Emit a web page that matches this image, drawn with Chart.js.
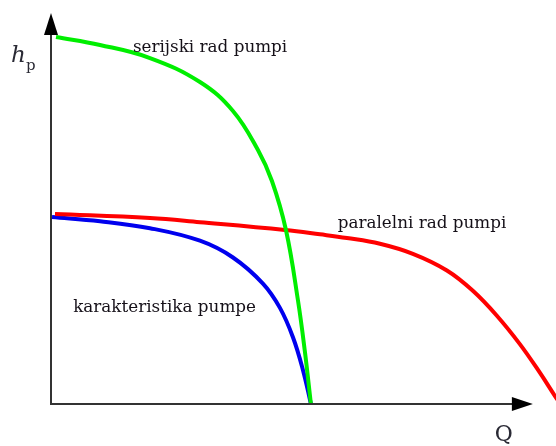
<!DOCTYPE html>
<html>
<head>
<meta charset="utf-8">
<script src="https://cdn.jsdelivr.net/npm/chart.js@4"></script>
<style>
  html, body { margin: 0; padding: 0; background: #fff; overflow: hidden; }
  #wrap { width: 556px; height: 446px; }
</style>
</head>
<body>
<div id="wrap"><canvas id="pumpChart"></canvas></div>
<script>
// Q / h values (axis units, arrow tips at 100)
const serialQ = [1.04, 10.17, 20.54, 30.91, 37.76, 42.95, 45.85, 48.76, 51.24, 52.70, 53.94];
const serialH = [93.86, 91.82, 88.49, 82.35, 74.94, 64.96, 57.03, 44.50, 26.60, 13.30, 0];

const pumpQ = [0.21, 10.17, 20.54, 30.91, 37.76, 43.98, 47.51, 50.21, 52.28, 53.94];
const pumpH = [47.83, 46.75, 44.96, 41.76, 37.47, 30.79, 24.58, 17.08, 8.72, 0];

const parallelQ = [0.83, 20.54, 30.91, 48.55, 55.81, 61.41, 68.26, 75.10, 82.16, 87.55, 92.53, 97.30, 101.45, 104.77, 105.81];
const parallelH = [48.59, 47.57, 46.50, 44.50, 43.40, 42.46, 40.97, 38.39, 34.14, 28.95, 22.58, 15.32, 8.01, 1.71, 0];

// curve labels: text, anchor Q, anchor h (baseline-left)
const curveLabels = [
    { text: 'serijski rad pumpi', q: 17.0, h: 90.0 },
    { text: 'paralelni rad pumpi', q: 59.5, h: 45.0 },
    { text: 'karakteristika pumpe', q: 4.6, h: 23.5 }
];

const Q_ARROW = 100, H_ARROW = 100;

const toPoints = (xs, ys) => xs.map((x, i) => ({ x: x, y: ys[i] }));

const lineStyle = (label, color, data) => ({
    label: label,
    data: data,
    borderColor: color,
    borderWidth: 4,
    pointRadius: 0,
    showLine: true,
    fill: false,
    clip: false,
    tension: 0.4
});

// axes with arrows + curve labels
const decorPlugin = {
    id: 'decor',
    afterDatasetsDraw(chart) {
        const { ctx, scales } = chart;
        const x0 = scales.x.getPixelForValue(0), y0 = scales.y.getPixelForValue(0);
        const xEnd = scales.x.getPixelForValue(Q_ARROW), yEnd = scales.y.getPixelForValue(H_ARROW);
        ctx.save();
        ctx.strokeStyle = '#333';
        ctx.lineWidth = 2;
        ctx.beginPath();
        ctx.moveTo(x0, y0 + 1);
        ctx.lineTo(x0, yEnd + 10);
        ctx.moveTo(x0 - 1, y0);
        ctx.lineTo(xEnd - 10, y0);
        ctx.stroke();

        ctx.fillStyle = '#000';
        ctx.beginPath();
        ctx.moveTo(x0, yEnd);
        ctx.lineTo(x0 - 7, yEnd + 22);
        ctx.lineTo(x0 + 7, yEnd + 22);
        ctx.closePath();
        ctx.fill();
        ctx.beginPath();
        ctx.moveTo(xEnd, y0);
        ctx.lineTo(xEnd - 21, y0 - 7);
        ctx.lineTo(xEnd - 21, y0 + 7);
        ctx.closePath();
        ctx.fill();

        // curve labels
        ctx.fillStyle = '#151018';
        ctx.font = '16.8px "DejaVu Serif", serif';
        ctx.textBaseline = 'alphabetic';
        ctx.textAlign = 'left';
        curveLabels.forEach(l => {
            ctx.fillText(l.text, scales.x.getPixelForValue(l.q), scales.y.getPixelForValue(l.h));
        });

        // axis titles
        ctx.fillStyle = '#2a2a35';
        ctx.font = 'italic 23px "DejaVu Serif", serif';
        ctx.fillText('h', x0 - 40, yEnd + 49);
        ctx.font = '15px "DejaVu Serif", serif';
        ctx.fillText('p', x0 - 25, yEnd + 57);
        ctx.font = '22px "DejaVu Serif", serif';
        ctx.fillText('Q', xEnd - 38, y0 + 37);
        ctx.restore();
    }
};

const ctx = document.getElementById('pumpChart').getContext('2d');
const pumpChart = new Chart(ctx, {
    type: 'scatter',
    data: {
        datasets: [
            lineStyle('serijski rad pumpi', '#00ee00', toPoints(serialQ, serialH)),
            lineStyle('paralelni rad pumpi', '#ff0000', toPoints(parallelQ, parallelH)),
            lineStyle('karakteristika pumpe', '#0000ee', toPoints(pumpQ, pumpH))
        ]
    },
    options: {
        responsive: true,
        maintainAspectRatio: false,
        animation: false,
        layout: { padding: { left: 51, right: 0, top: 13, bottom: 42 } },
        plugins: {
            legend: { display: false },
            tooltip: { enabled: false }
        },
        scales: {
            x: { type: 'linear', min: 0, max: 104.8, display: false },
            y: { type: 'linear', min: 0, max: 100, display: false }
        }
    },
    plugins: [decorPlugin]
});
</script>
</body>
</html>
